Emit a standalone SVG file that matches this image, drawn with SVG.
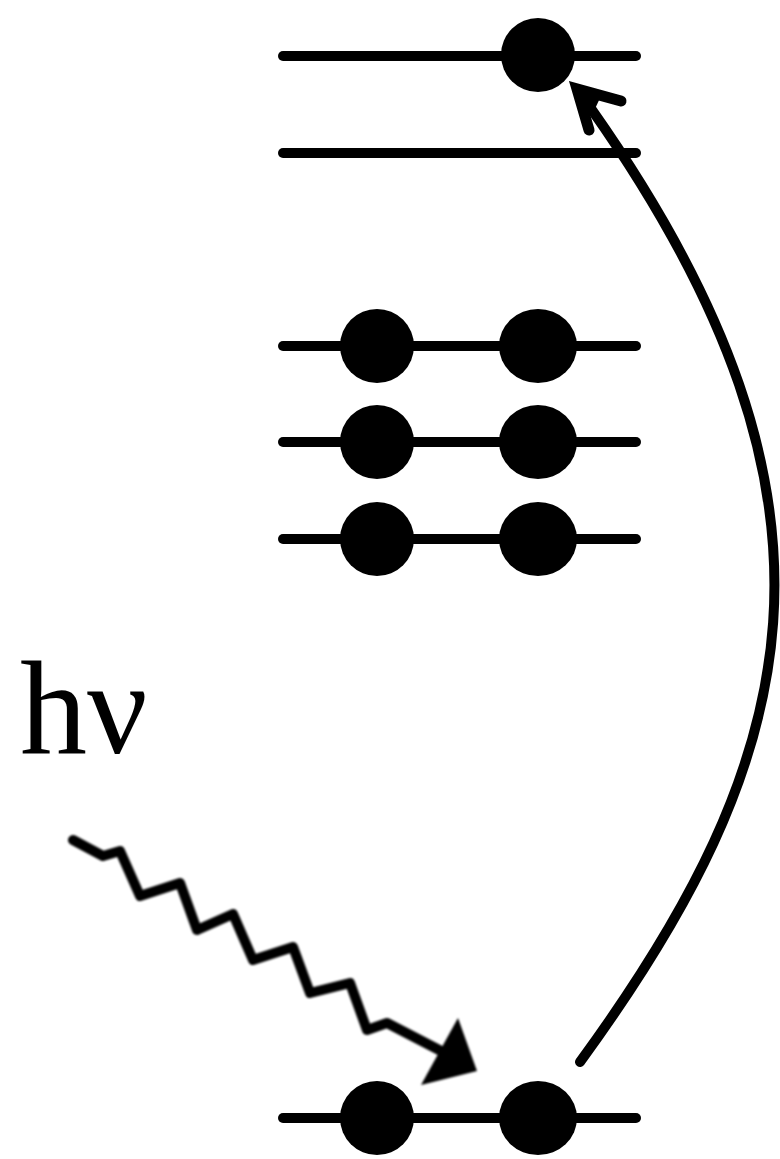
<svg xmlns="http://www.w3.org/2000/svg" width="780" height="1159" viewBox="0 0 780 1159">
  <style>
    .level { stroke: #000; stroke-width: 10; stroke-linecap: round; fill: none; }
    .electron { fill: #000; }
    .conn { stroke: #000; stroke-width: 10; stroke-linecap: round; fill: none; }
    .label { font-family: "Liberation Serif", "Times New Roman", serif; font-size: 134px; fill: #000; }
  </style>
  <defs>
    <filter id="soft" x="-10%" y="-10%" width="120%" height="120%">
      <feGaussianBlur stdDeviation="1.2"/>
    </filter>
  </defs>

  <rect width="780" height="1159" fill="#fff"/>

  <!-- energy levels -->
  <g id="level-top">
    <line class="level" x1="283" y1="56" x2="636" y2="56"/>
    <circle class="electron" cx="538" cy="55" r="37"/>
  </g>
  <g id="level-2">
    <line class="level" x1="283" y1="153" x2="636" y2="153"/>
  </g>
  <g id="level-3">
    <line class="level" x1="283" y1="346" x2="636" y2="346"/>
    <ellipse class="electron" cx="377" cy="346" rx="37" ry="37"/>
    <ellipse class="electron" cx="538" cy="346" rx="39" ry="37"/>
  </g>
  <g id="level-4">
    <line class="level" x1="283" y1="442" x2="636" y2="442"/>
    <ellipse class="electron" cx="377" cy="442" rx="37" ry="37"/>
    <ellipse class="electron" cx="538" cy="442" rx="39" ry="37"/>
  </g>
  <g id="level-5">
    <line class="level" x1="283" y1="539" x2="636" y2="539"/>
    <ellipse class="electron" cx="377" cy="539" rx="37" ry="37"/>
    <ellipse class="electron" cx="538" cy="539" rx="39" ry="37"/>
  </g>
  <g id="level-ground">
    <line class="level" x1="283" y1="1118" x2="636" y2="1118"/>
    <ellipse class="electron" cx="377" cy="1118" rx="37" ry="37"/>
    <ellipse class="electron" cx="538" cy="1118" rx="39" ry="37"/>
  </g>

  <!-- photon label -->
  <g id="photon-label">
    <text class="label" x="20" y="753">hν</text>
  </g>

  <!-- connectors -->
  <g id="connectors">
    <!-- excitation arc -->
    <path class="conn" d="M 580 1062 C 799 762, 872 508, 592 110"/>
    <path d="M 621 101 L 577 89 L 589 130" stroke="#000" stroke-width="11" stroke-linecap="round" stroke-linejoin="miter" fill="none"/>
    <polygon points="577,89 601,96 593,113 585,118" fill="#000"/>

    <!-- incoming photon -->
    <g filter="url(#soft)">
      <polyline fill="none" stroke="#000" stroke-width="10" stroke-linecap="round" stroke-linejoin="round"
        points="73,840 103,856 120,851 140,896 180,883 197,930 233,914 253,960 293,947 310,993 350,983 367,1030 387,1023 445,1053"/>
      <polygon points="458,1018 477,1071 421,1085" fill="#000"/>
    </g>
  </g>
</svg>
